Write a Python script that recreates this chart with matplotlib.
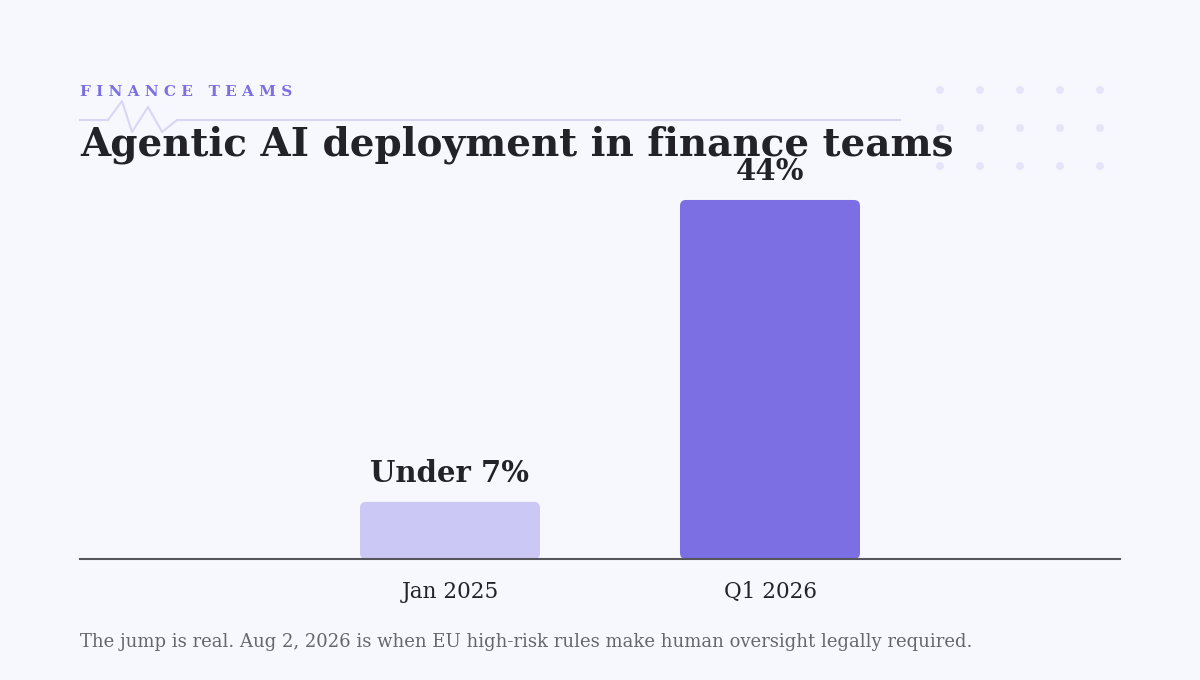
import matplotlib
matplotlib.use("Agg")
import matplotlib.pyplot as plt
from matplotlib.patches import FancyBboxPatch, Ellipse
from matplotlib.lines import Line2D

categories = ["Jan 2025", "Q1 2026"]
values = [7, 44]
value_labels = ["Under 7%", "44%"]
eyebrow = "FINANCE TEAMS"
title = "Agentic AI deployment in finance teams"
footnote = "The jump is real. Aug 2, 2026 is when EU high-risk rules make human oversight legally required."

BG = "#F7F8FD"
DARK = "#222228"
PURPLE = "#7B6FE3"
LIGHT = "#CCC8F5"
bar_colors = [LIGHT, PURPLE]

W, H = 1200, 680
fig = plt.figure(figsize=(W / 100, H / 100), dpi=100, facecolor=BG)
SERIF = ["DejaVu Serif"]

def fx(x):
    return x / W

def fy(y):
    return 1 - y / H

# decorative pulse line
px = [80, 108, 122, 132, 148, 162, 177, 900]
py = [120, 120, 101, 132, 107, 132, 120, 120]
fig.add_artist(Line2D([fx(v) for v in px], [fy(v) for v in py], color="#D8D5F6", lw=1.5, zorder=1))

# dot grid
for gx in [940, 980, 1020, 1060, 1100]:
    for gy in [90, 128, 166]:
        fig.add_artist(Ellipse((fx(gx), fy(gy)), 6.5 / W, 6.5 / H, color="#E6E5F8",
                               transform=fig.transFigure, zorder=1))

# axes: baseline at y=559, x from 80 to 1120
ax_bottom, ax_top = 559, 151
ax = fig.add_axes([fx(80), fy(ax_bottom), fx(1040), (ax_bottom - ax_top) / H])
ax.set_facecolor("none")
ymax = (ax_bottom - ax_top) / 8.16
ax.set_ylim(0, ymax)
ppu_x = 320.0
ax.set_xlim(-370 / ppu_x, 1 + 350 / ppu_x)
bw = 180 / ppu_x
ppu_y = (ax_bottom - ax_top) / ymax
r = 6 / ppu_x
for i, (v, c) in enumerate(zip(values, bar_colors)):
    p = FancyBboxPatch((i - bw / 2, 0), bw, v,
                       boxstyle=f"round,pad=0,rounding_size={r}",
                       mutation_aspect=ppu_x / ppu_y,
                       facecolor=c, edgecolor="none", zorder=2)
    ax.add_patch(p)
    ax.text(i, v + 20 / ppu_y, value_labels[i], ha="center", va="baseline",
            fontsize=21, fontweight="bold", color=DARK, family=SERIF, zorder=5)

for s in ["top", "right", "left"]:
    ax.spines[s].set_visible(False)
ax.spines["bottom"].set_color("#55555c")
ax.spines["bottom"].set_linewidth(1.5)
ax.set_yticks([])
ax.set_xticks(range(len(categories)))
ax.set_xticklabels(categories, fontsize=15.5, color=DARK, family=SERIF)
ax.tick_params(axis="x", length=0, pad=16)

# texts
fig.text(fx(80), fy(96), " ".join(eyebrow),
         fontsize=11, fontweight="bold", color=PURPLE, family=SERIF, ha="left", va="baseline")
fig.text(fx(80), fy(156), title, fontsize=28, fontweight="bold", color=DARK, family=SERIF,
         ha="left", va="baseline", zorder=6)
fig.text(fx(80), fy(647), footnote, fontsize=13, color="#66666c", family=SERIF, ha="left", va="baseline")

fig.savefig("out.png", dpi=100, facecolor=BG)
